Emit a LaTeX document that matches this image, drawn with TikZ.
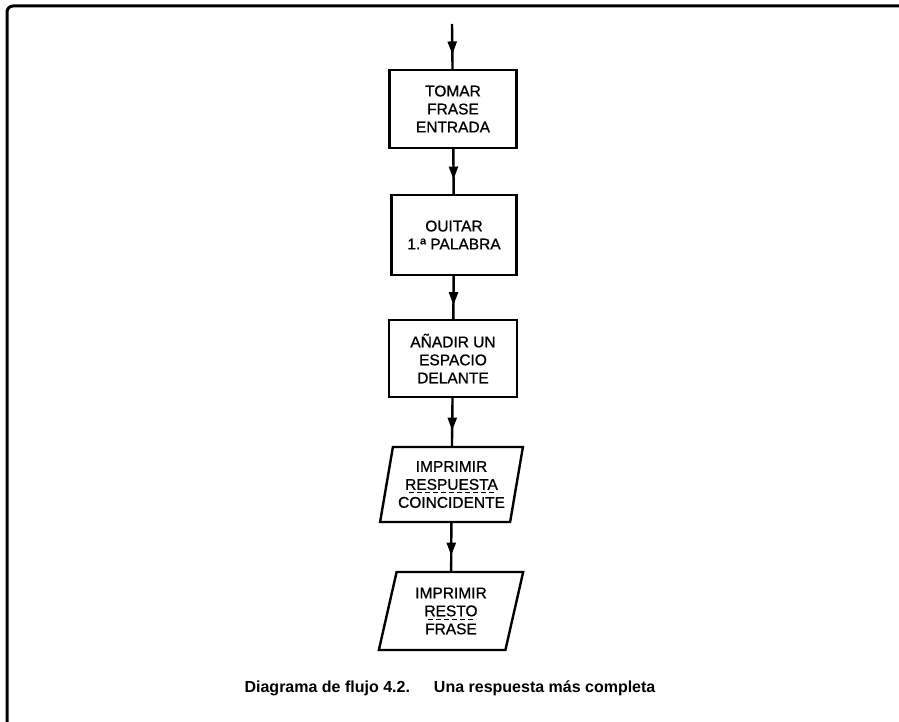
\documentclass[tikz,border=0pt]{standalone}
\usepackage{fontspec}
\setmainfont{Liberation Sans}
\newfontfamily\boxfont[FakeBold=0.9]{Liberation Sans}
\usetikzlibrary{arrows.meta,decorations.markings,shapes.geometric}
\begin{document}
\begin{tikzpicture}[x=1pt,y=-1pt,
  lw/.style={line width=2.4pt},
  stepbox/.style={draw,lw,rectangle,align=center,inner sep=0pt,
    font=\boxfont\fontsize{15.5}{18}\selectfont},
  iobox/.style={draw,lw,trapezium,trapezium left angle=76,trapezium right angle=104,
    trapezium stretches=true,align=center,inner sep=0pt,
    font=\boxfont\fontsize{15.5}{18}\selectfont},
  flow/.style={lw,postaction={decorate},decoration={markings,
    mark=at position 0.68 with {\arrow{Triangle[length=13pt,width=9pt]}}}},
  under/.style={line width=0.8pt,dash pattern=on 5pt off 3pt}
]
\useasboundingbox (0,0) rectangle (899,722);
\draw[line width=3pt,rounded corners=6pt] (7,730) -- (7,6) -- (905,6);

\coordinate (start) at (452,24);
\node[stepbox,minimum width=127pt,minimum height=78pt,text depth=-2pt] (b1) at (453,109) {TOMAR\\FRASE\\ENTRADA};
\node[stepbox,minimum width=125pt,minimum height=80pt] (b2) at (454,235) {OUITAR\\1.ª PALABRA};
\node[stepbox,minimum width=128pt,minimum height=77pt] (b3) at (453,358.5) {AÑADIR UN\\ESPACIO\\DELANTE};
\node[iobox,minimum width=143pt,minimum height=75pt] (p1) at (451.5,484.5) {IMPRIMIR\\RESPUESTA\\COINCIDENTE};
\node[iobox,minimum width=145pt,minimum height=78pt] (p2) at (451,611) {IMPRIMIR\\RESTO\\FRASE};

\draw[flow] (start) -- (b1);
\draw[flow] (b1) -- (b2);
\draw[flow] (b2) -- (b3);
\draw[flow] (b3) -- (p1);
\draw[flow] (p1) -- (p2);

\draw[under] (409,492.5) -- (494,492.5);
\draw[under] (428,619.5) -- (476,619.5);

\node[font=\bfseries\fontsize{16}{19}\selectfont] (cap) at (450,688)
  {Diagrama de flujo 4.2.\hspace{24pt}Una respuesta más completa};
\end{tikzpicture}
\end{document}
